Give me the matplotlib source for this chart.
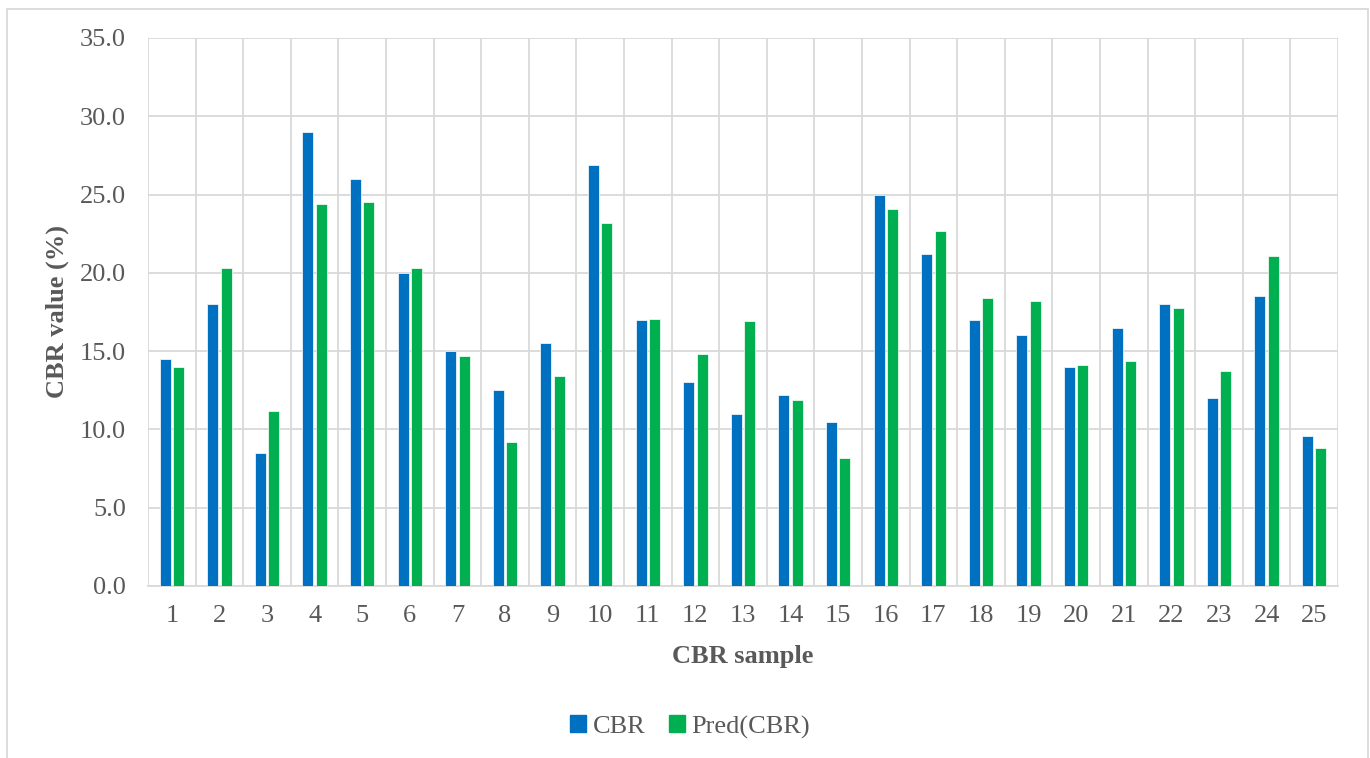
import numpy as np
import matplotlib.pyplot as plt
from matplotlib.patches import Patch, Rectangle

samples = list(range(1, 26))
cbr = [14.5, 18.0, 8.5, 29.0, 26.0, 20.0, 15.0, 12.5, 15.5, 26.9,
       17.0, 13.0, 11.0, 12.2, 10.5, 25.0, 21.2, 17.0, 16.0, 14.0,
       16.5, 18.0, 12.0, 18.5, 9.6]
pred_cbr = [14.0, 20.3, 11.2, 24.4, 24.55, 20.3, 14.7, 9.2, 13.4, 23.2,
            17.05, 14.8, 16.9, 11.9, 8.2, 24.1, 22.65, 18.4, 18.2, 14.1,
            14.4, 17.75, 13.7, 21.1, 8.8]

blue = '#0070C0'
green = '#00B050'
grid_col = '#D9D9D9'
text_col = '#595959'

plt.rcParams['font.family'] = ['Liberation Serif', 'DejaVu Serif']

fig = plt.figure(figsize=(13.7, 7.58), dpi=100)
ax = fig.add_axes([148/1370, 1 - 586/758, 1190/1370, 548/758])

x = np.array(samples)
w = 0.23
ax.bar(x - 0.14, cbr, width=w, color=blue, edgecolor='white', linewidth=0.5, zorder=3)
ax.bar(x + 0.14, pred_cbr, width=w, color=green, edgecolor='white', linewidth=0.5, zorder=3)

ax.set_xlim(0.5, 25.5)
ax.set_ylim(0, 35)
ax.set_yticks(np.arange(0, 35.1, 5))
ax.set_yticklabels([f'{v:.1f}' for v in np.arange(0, 35.1, 5)])
ax.set_xticks(x)
ax.set_xticklabels([str(s) for s in samples])
ax.set_xticks(np.arange(0.5, 25.6, 1), minor=True)

ax.grid(axis='y', color=grid_col, linewidth=1.3, zorder=0)
ax.grid(axis='x', which='minor', color=grid_col, linewidth=1.3, zorder=0)
ax.tick_params(axis='both', which='both', length=0, labelsize=19, labelcolor=text_col)
ax.tick_params(axis='x', pad=14)
ax.tick_params(axis='y', pad=16)
for side in ['left', 'right', 'top']:
    ax.spines[side].set_visible(False)
ax.spines['bottom'].set_color(grid_col)
ax.spines['bottom'].set_linewidth(1.3)

ax.set_xlabel('CBR sample', fontsize=19, fontweight='bold', color=text_col, va='center')
ax.xaxis.set_label_coords(0.5, (586 - 657) / 548)
ax.set_ylabel('CBR value (%)', fontsize=19, fontweight='bold', color=text_col, va='center')
ax.yaxis.set_label_coords((57 - 148) / 1190, 0.5)

handles = [Patch(color=blue, label='CBR'), Patch(color=green, label='Pred(CBR)')]
leg = fig.legend(handles=handles, loc='center', bbox_to_anchor=(690/1370, 1 - 727/758),
                 ncol=2, frameon=False, fontsize=19, handlelength=0.6, handleheight=0.6,
                 handletextpad=0.25, columnspacing=0.9)
for t in leg.get_texts():
    t.set_color(text_col)

# outer chart border
fig.patches.append(Rectangle((7/1370, -0.02), 1361/1370, 1.02 - 9/758,
                             transform=fig.transFigure, fill=False,
                             edgecolor=grid_col, linewidth=1.3))

fig.savefig('out.png', dpi=100)
